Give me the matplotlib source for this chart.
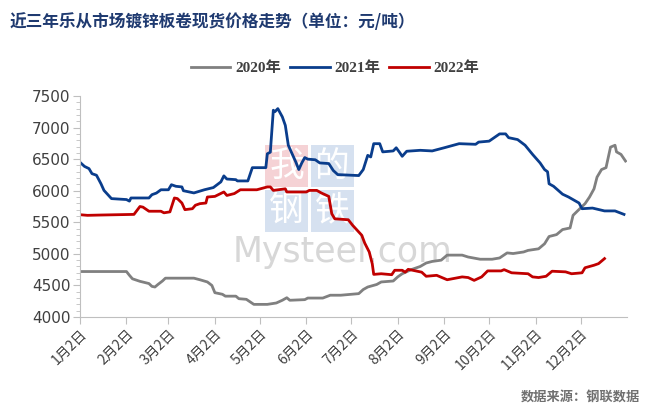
import matplotlib
matplotlib.use("Agg")
import matplotlib.pyplot as plt
from matplotlib.patches import Rectangle
from matplotlib.ticker import MultipleLocator

plt.rcParams['font.family'] = ['DejaVu Sans', 'Noto Sans CJK SC']

# ---------- data (day index from Jan 2, price in yuan/ton) ----------
days_2020 = [0, 31, 33, 35, 40, 46, 48, 50, 52, 55, 57, 76, 80, 85, 88, 90, 95, 97, 104, 106,
             111, 116, 125, 131, 135, 138, 140, 150, 152, 162, 167, 174, 186, 189, 192, 198,
             201, 209, 212, 215, 221, 227, 231, 235, 241, 245, 255, 259, 267, 275, 280, 285,
             289, 296, 299, 306, 310, 313, 318, 322, 327, 329, 332, 337, 340, 343, 345, 348,
             351, 354, 357, 358, 361, 364]
price_2020 = [4720, 4720, 4660, 4605, 4565, 4530, 4485, 4475, 4515, 4570, 4615, 4615, 4590,
              4555, 4500, 4385, 4360, 4330, 4330, 4290, 4280, 4200, 4200, 4222, 4265, 4305,
              4265, 4275, 4300, 4300, 4345, 4345, 4370, 4435, 4475, 4515, 4555, 4570, 4635,
              4685, 4750, 4800, 4855, 4880, 4900, 4980, 4980, 4950, 4915, 4915, 4935, 5015,
              5005, 5030, 5055, 5080, 5160, 5275, 5305, 5385, 5410, 5610, 5680, 5795, 5900,
              6030, 6215, 6335, 6365, 6690, 6720, 6615, 6575, 6470]

days_2021 = [0, 3, 6, 8, 11, 14, 16, 21, 31, 33, 34, 46, 48, 51, 54, 59, 61, 64, 68, 69, 76,
             83, 89, 94, 96, 98, 104, 105, 112, 115, 124, 125, 127, 129, 130, 132, 135, 137,
             139, 142, 144, 146, 148, 150, 152, 157, 160, 166, 169, 172, 186, 189, 192, 194,
             196, 200, 202, 209, 211, 213, 215, 218, 227, 235, 243, 253, 264, 266, 273, 280,
             284, 286, 292, 297, 302, 307, 310, 312, 313, 316, 322, 326, 333, 335, 342, 350,
             357, 363]
price_2021 = [6450, 6385, 6350, 6270, 6245, 6110, 6005, 5875, 5860, 5835, 5885, 5885, 5937,
              5963, 6015, 6015, 6095, 6070, 6060, 6000, 5965, 6015, 6050, 6140, 6235, 6185,
              6175, 6155, 6155, 6365, 6365, 6585, 6610, 7275, 7250, 7300, 7170, 7035, 6720,
              6560, 6455, 6335, 6440, 6525, 6500, 6490, 6440, 6430, 6320, 6255, 6240, 6335,
              6560, 6535, 6745, 6745, 6615, 6630, 6680, 6615, 6545, 6625, 6640, 6630, 6680,
              6745, 6735, 6770, 6785, 6900, 6900, 6840, 6810, 6720, 6575, 6440, 6335, 6300,
              6110, 6070, 5945, 5900, 5805, 5715, 5725, 5680, 5680, 5625]

days_2022 = [0, 5, 14, 36, 40, 42, 46, 54, 56, 60, 63, 65, 68, 70, 75, 77, 80, 84, 85, 90, 96,
             98, 103, 107, 118, 125, 127, 129, 137, 138, 151, 153, 158, 161, 166, 168, 170,
             179, 182, 188, 190, 193, 195, 196, 201, 208, 210, 215, 217, 219, 228, 231, 238,
             245, 255, 259, 263, 268, 272, 281, 283, 288, 299, 302, 306, 311, 315, 324, 328,
             335, 337, 343, 346, 350]
price_2022 = [5620, 5610, 5615, 5625, 5750, 5740, 5675, 5675, 5650, 5665, 5885, 5875, 5805,
              5700, 5715, 5770, 5795, 5805, 5900, 5910, 5980, 5925, 5955, 6015, 6015, 6060,
              6060, 6005, 6030, 5980, 5980, 6005, 6005, 5965, 5910, 5635, 5555, 5540, 5450,
              5295, 5170, 5030, 4845, 4675, 4685, 4670, 4740, 4740, 4710, 4755, 4710, 4645,
              4660, 4590, 4635, 4625, 4580, 4635, 4730, 4730, 4750, 4700, 4685, 4635, 4625,
              4645, 4725, 4715, 4685, 4700, 4780, 4820, 4845, 4925]

tick_days = [0, 31, 59, 90, 120, 151, 181, 212, 243, 273, 304, 334]
tick_labels = ['1月2日', '2月2日', '3月2日', '4月2日', '5月2日', '6月2日',
               '7月2日', '8月2日', '9月2日', '10月2日', '11月2日', '12月2日']

# ---------- figure ----------
W, H = 671, 419
fig = plt.figure(figsize=(W / 100, H / 100), dpi=100)
ax = fig.add_axes([80 / W, 1 - 317 / H, 547 / W, 221 / H])

def px(x, y):
    return x / W, 1 - y / H

# ---------- watermark ----------
wm_boxes = [(265, 145, '#F2C4C8', '我'), (311, 145, '#C9D8EC', '的'),
            (265, 190, '#C9D8EC', '钢'), (311, 190, '#C9D8EC', '铁')]
for bx, by, col, ch in wm_boxes:
    x0, y0 = px(bx, by + 42)
    fig.patches.append(Rectangle((x0, y0), 43 / W, 42 / H, transform=fig.transFigure,
                                 facecolor=col, alpha=0.75, zorder=-1))
    cx, cy = px(bx + 21.5, by + 21)
    fig.text(cx, cy, ch, ha='center', va='center', fontsize=25, color='white',
             family=['Noto Sans CJK SC'], zorder=-1)
mx, my = px(233, 262)
fig.text(mx, my, 'Mysteel.com', ha='left', va='baseline', fontsize=25, color='#D0D0D0',
         alpha=0.85, zorder=-1, family=['DejaVu Sans'])
ax.set_facecolor('none')

# ---------- lines ----------
ax.plot(days_2020, price_2020, color='#808080', lw=2, label='2020年')
ax.plot(days_2021, price_2021, color='#0A3D8C', lw=2, label='2021年')
ax.plot(days_2022, price_2022, color='#C00000', lw=2, label='2022年')

ax.set_xlim(0, 365)
ax.set_ylim(4000, 7500)
ax.yaxis.set_major_locator(MultipleLocator(500))
ax.yaxis.set_minor_locator(MultipleLocator(100))
ax.set_xticks(tick_days)
ax.set_xticklabels(tick_labels, rotation=45, ha='right', rotation_mode='anchor',
                   fontsize=10, color='#404040', family=['Noto Sans CJK SC'])
for lab in ax.get_yticklabels():
    lab.set_fontsize(11)
    lab.set_color('#404040')
ax.tick_params(axis='y', which='major', length=5, color='#BFBFBF', pad=2)
ax.tick_params(axis='y', which='minor', length=3, color='#BFBFBF')
ax.tick_params(axis='x', length=5, color='#BFBFBF', pad=2)
for s in ['top', 'right']:
    ax.spines[s].set_visible(False)
for s in ['left', 'bottom']:
    ax.spines[s].set_color('#BFBFBF')

# ---------- texts ----------
fig.text(10 / W, 1 - 22 / H, '近三年乐从市场镀锌板卷现货价格走势（单位：元/吨）',
         ha='left', va='center', fontsize=12, fontweight='bold', color='#1F3A70',
         family=['Noto Sans CJK SC'])
leg = fig.legend(loc='center', bbox_to_anchor=(335 / W, 1 - 68 / H), ncol=3, frameon=False,
                 handlelength=2.6, columnspacing=0.6, handletextpad=0.3,
                 prop={'family': ['Liberation Serif', 'Noto Sans CJK SC'],
                       'weight': 'bold', 'size': 11})
for t in leg.get_texts():
    t.set_color('#404040')
fig.text(640 / W, 1 - 397 / H, '数据来源：钢联数据', ha='right', va='center', fontsize=9.5,
         fontweight='bold', color='#707070', family=['Noto Sans CJK SC'])

fig.savefig('out.png', dpi=100)
